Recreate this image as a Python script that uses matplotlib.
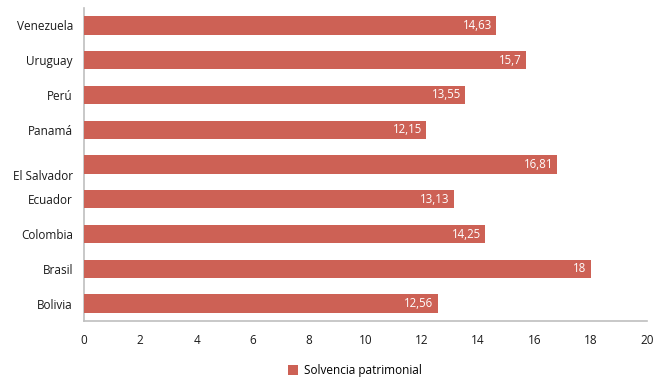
import matplotlib.pyplot as plt
import matplotlib.transforms as mtransforms

paises = ['Bolivia', 'Brasil', 'Colombia', 'Ecuador', 'El Salvador',
          'Panamá', 'Perú', 'Uruguay', 'Venezuela']
valores = [12.56, 18, 14.25, 13.13, 16.81, 12.15, 13.55, 15.7, 14.63]
etiquetas = ['12,56', '18', '14,25', '13,13', '16,81', '12,15', '13,55', '15,7', '14,63']
xticks = [0, 2, 4, 6, 8, 10, 12, 14, 16, 18, 20]

BAR = '#CD6155'
TEXT = '#1a1a1a'
AXIS = '#BFBFBF'
FONT = 'Open Sans'

fig = plt.figure(figsize=(6.58, 3.78), dpi=100)
ax = fig.add_axes([84 / 658, 1 - 321 / 378, (647 - 84) / 658, (321 - 8) / 378])

y = list(range(len(paises)))
bars = ax.barh(y, valores, height=0.53, color=BAR, label='Solvencia patrimonial', zorder=3)

off = mtransforms.ScaledTranslation(-4 / 100, 0, fig.dpi_scale_trans)
for yi, v, t in zip(y, valores, etiquetas):
    ax.text(v, yi, t, ha='right', va='center', color='white', fontsize=8.3,
            fontfamily=FONT, transform=ax.transData + off, zorder=4)

ax.set_xlim(0, 20)
ax.set_ylim(-0.5, len(paises) - 0.5)
ax.set_xticks(xticks)
ax.set_xticklabels([str(t) for t in xticks], fontsize=8.5, fontfamily=FONT, color=TEXT)
ax.set_yticks(y)
ax.set_yticklabels(paises, fontsize=8.5, fontfamily=FONT, color=TEXT)
ax.tick_params(axis='both', length=0)
ax.tick_params(axis='x', pad=9)
ax.tick_params(axis='y', pad=8)

# la etiqueta de El Salvador aparece algo desplazada hacia abajo
lab = ax.get_yticklabels()[paises.index('El Salvador')]
lab.set_transform(lab.get_transform() + mtransforms.ScaledTranslation(0, -11 / 100, fig.dpi_scale_trans))

for s in ['top', 'right']:
    ax.spines[s].set_visible(False)
ax.spines['left'].set_color(AXIS)
ax.spines['bottom'].set_color(AXIS)
ax.spines['left'].set_linewidth(1.2)
ax.spines['bottom'].set_linewidth(1.2)

fig.legend(handles=[bars], loc='center', bbox_to_anchor=(355 / 658, 1 - 370.5 / 378),
           frameon=False, prop={'family': FONT, 'size': 8.5}, handlelength=0.9,
           handleheight=0.9, handletextpad=0.5, borderpad=0)

fig.savefig('out.png', dpi=100, facecolor='white')
